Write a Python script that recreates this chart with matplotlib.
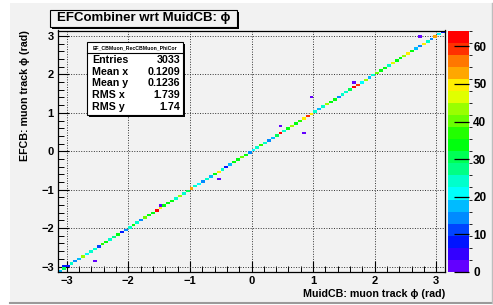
import colorsys
import numpy as np
import matplotlib
matplotlib.use("Agg")
import matplotlib.pyplot as plt
from matplotlib.colors import ListedColormap, BoundaryNorm
from matplotlib.patches import Rectangle
from matplotlib.lines import Line2D
from matplotlib.ticker import MultipleLocator

plt.rcParams['font.family'] = ['Liberation Sans', 'DejaVu Sans']

# ---------------- data ----------------
n_bins = 100
diag_counts = [17, 30, 9, 24, 15, 19, 42, 20, 23, 24,
               11, 38, 34, 25, 28, 33, 9, 15, 23, 33,
               24, 15, 40, 33, 35, 62, 49, 34, 35, 33,
               24, 43, 24, 32, 52, 23, 22, 14, 23, 18,
               33, 49, 23, 9, 18, 33, 35, 41, 34, 15,
               20, 23, 38, 24, 14, 17, 32, 62, 25, 34,
               42, 33, 36, 49, 59, 49, 24, 19, 25, 44,
               33, 34, 13, 23, 24, 31, 63, 58, 22, 44,
               17, 23, 40, 34, 33, 24, 45, 35, 34, 42,
               49, 33, 19, 15, 49, 23, 15, 52, 22, 9]
# off-diagonal bins: phi positions (rad) and counts
off_x = [-3.03, -2.56, -1.48, -0.53, 0.46, 0.83, 0.96, 1.66, 2.74]
off_y = [-2.98, -2.85, -1.41, -0.70, 0.68, 0.48, 1.44, 1.78, 2.96]
off_counts = [8, 2, 3, 2, 2, 2, 2, 3, 2]

z_max = 64.2
cbar_ticks = [0, 10, 20, 30, 40, 50, 60]
axis_ticks = [-3, -2, -1, 0, 1, 2, 3]

title = "EFCombiner wrt MuidCB: \u03d5"
xlabel = "MuidCB: muon track \u03d5 (rad)"
ylabel = "EFCB: muon track \u03d5 (rad)"
stats_name = "EF_CBMuon_RecCBMuon_PhiCor"
stats_labels = ["Entries", "Mean x", "Mean y", "RMS x", "RMS y"]
stats_values = ["3033", "0.1209", "0.1236", "1.739", "1.74"]

# ---------------- histogram ----------------
edges = np.linspace(-np.pi, np.pi, n_bins + 1)
centers = 0.5 * (edges[:-1] + edges[1:])
xs = np.concatenate([centers, off_x])
ys = np.concatenate([centers, off_y])
ws = np.concatenate([diag_counts, off_counts])
H, _, _ = np.histogram2d(xs, ys, bins=[edges, edges], weights=ws)
Hm = np.ma.masked_where(H.T <= 0, H.T)

# ROOT "pretty" palette: 20 contour levels
ncont = 20
cols = []
for k in range(ncont):
    idx = int((k + 0.99) * 50 / ncont)
    hue = 280 - (idx + 1) * (280 / 50)
    cols.append(colorsys.hls_to_rgb(max(hue, 0) / 360.0, 0.5, 1.0))
cmap = ListedColormap(cols)
levels = np.linspace(0, z_max, ncont + 1)
norm = BoundaryNorm(levels, cmap.N)

W, Hpx = 493, 305
fig = plt.figure(figsize=(W / 100, Hpx / 100), dpi=100)
fig.patch.set_facecolor('white')

def fx(px):
    return px / W

def fy(py):
    return 1 - py / Hpx

bg = '#f2f2f2'
fig.patches.append(Rectangle((fx(10), fy(302)), fx(482), 299 / Hpx,
                             transform=fig.transFigure, facecolor=bg,
                             edgecolor='none', zorder=-5))
fig.lines.append(Line2D([fx(10), fx(492)], [fy(302.5), fy(302.5)],
                        transform=fig.transFigure, color='#9a9a9a', lw=1.5,
                        zorder=-4))
fig.lines.append(Line2D([fx(492), fx(492)], [fy(302.5), fy(3)],
                        transform=fig.transFigure, color='#bdbdbd', lw=1.0,
                        zorder=-4))

ax = fig.add_axes([fx(58), fy(272), fx(445 - 58), (272 - 30.5) / Hpx])
ax.set_facecolor(bg)
mesh = ax.pcolormesh(edges, edges, Hm, cmap=cmap, norm=norm, zorder=2)
ax.set_xlim(-np.pi, np.pi)
ax.set_ylim(-np.pi, np.pi)
ax.set_xticks(axis_ticks)
ax.set_yticks(axis_ticks)
ax.xaxis.set_minor_locator(MultipleLocator(0.2))
ax.yaxis.set_minor_locator(MultipleLocator(0.2))
ax.tick_params(which='major', direction='in', length=8, width=0.8,
               top=False, right=False, labelsize=8, pad=3)
ax.tick_params(which='minor', direction='in', length=4, width=0.7,
               top=False, right=False)
for lab in ax.get_xticklabels() + ax.get_yticklabels():
    lab.set_fontweight('bold')
ax.grid(True, which='major', color='#333333', linestyle=(0, (1, 1.6)),
        linewidth=0.7, zorder=1)
ax.set_axisbelow(True)
for s in ax.spines.values():
    s.set_linewidth(0.9)
ax.set_xlabel(xlabel, loc='right', fontsize=7.7, fontweight='bold', labelpad=2)
ax.set_ylabel(ylabel, loc='top', fontsize=7.7, fontweight='bold', labelpad=8)

cax = fig.add_axes([fx(448), fy(272), fx(21), (272 - 30.5) / Hpx])
cb = fig.colorbar(mesh, cax=cax, ticks=cbar_ticks)
cb.outline.set_visible(False)
cax.tick_params(direction='in', length=11, width=0.9, labelsize=8.5, pad=3)
for lab in cax.get_yticklabels():
    lab.set_fontweight('bold')

# title box
tb = (50, 10, 237, 27)
fig.patches.append(Rectangle((fx(tb[0] + 2), fy(tb[3] + 2)), fx(tb[2] - tb[0]),
                             (tb[3] - tb[1]) / Hpx, transform=fig.transFigure,
                             facecolor='black', edgecolor='none', zorder=3))
fig.patches.append(Rectangle((fx(tb[0]), fy(tb[3])), fx(tb[2] - tb[0]),
                             (tb[3] - tb[1]) / Hpx, transform=fig.transFigure,
                             facecolor=bg, edgecolor='black', lw=0.8, zorder=4))
fig.text(fx((tb[0] + tb[2]) / 2), fy((tb[1] + tb[3]) / 2), title,
         ha='center', va='center', fontsize=9.5, fontweight='bold', zorder=5)

# stats box
sb = (87, 42, 183, 115)
fig.patches.append(Rectangle((fx(sb[0] + 2), fy(sb[3] + 2)), fx(sb[2] - sb[0]),
                             (sb[3] - sb[1]) / Hpx, transform=fig.transFigure,
                             facecolor='black', edgecolor='none', zorder=6))
fig.patches.append(Rectangle((fx(sb[0]), fy(sb[3])), fx(sb[2] - sb[0]),
                             (sb[3] - sb[1]) / Hpx, transform=fig.transFigure,
                             facecolor='white', edgecolor='black', lw=0.8, zorder=7))
fig.lines.append(Line2D([fx(sb[0]), fx(sb[2])], [fy(53), fy(53)],
                        transform=fig.transFigure, color='black', lw=0.8, zorder=8))
fig.text(fx((sb[0] + sb[2]) / 2), fy(47.5), stats_name, ha='center', va='center',
         fontsize=3.7, fontweight='bold', zorder=9)
row_y = [60, 72, 83.5, 95, 107]
for yy, l, v in zip(row_y, stats_labels, stats_values):
    fig.text(fx(92), fy(yy), l, ha='left', va='center', fontsize=7.7,
             fontweight='bold', zorder=9)
    fig.text(fx(180), fy(yy), v, ha='right', va='center', fontsize=7.7,
             fontweight='bold', zorder=9)

fig.savefig('out.png', dpi=100, facecolor='white')
